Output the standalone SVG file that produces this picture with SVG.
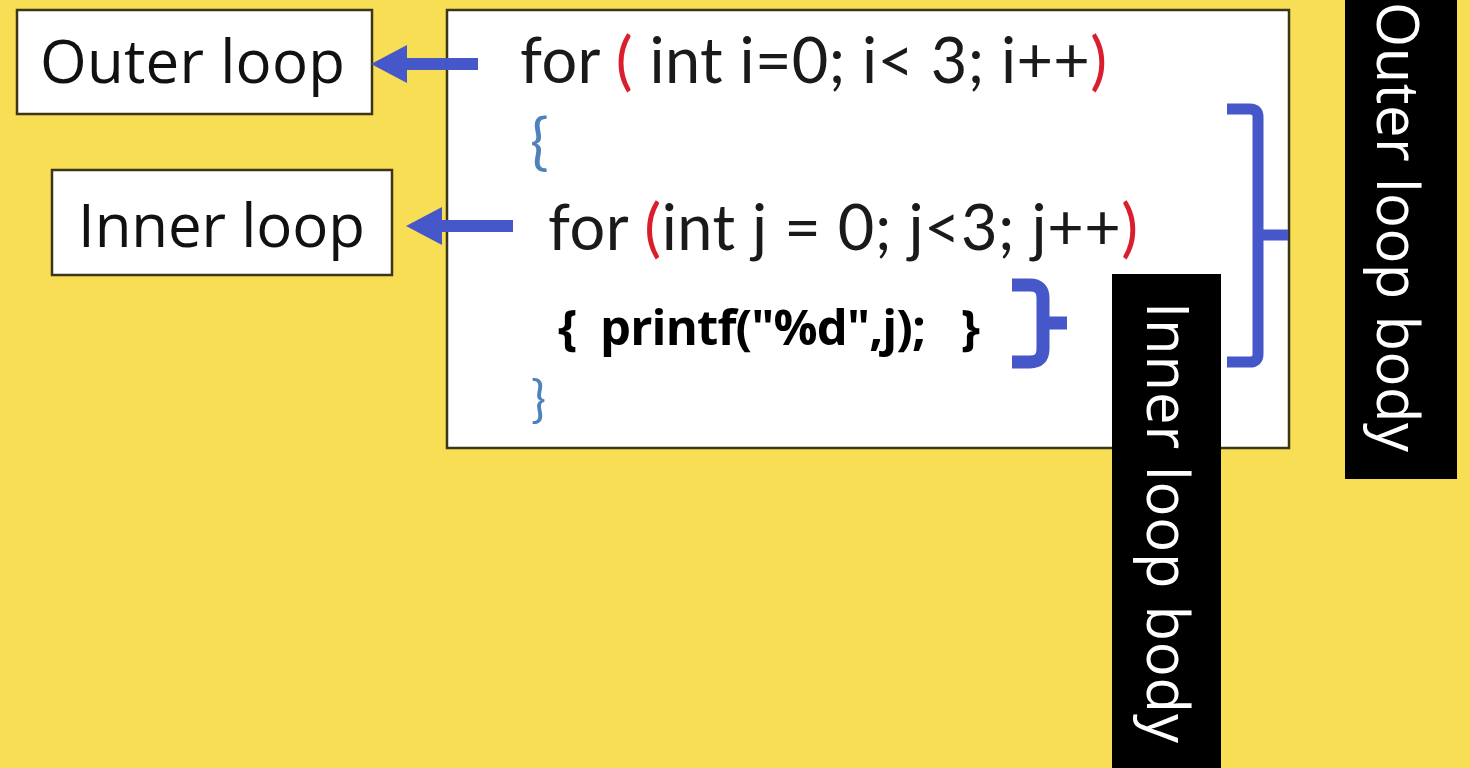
<svg xmlns="http://www.w3.org/2000/svg" width="1470" height="768" viewBox="0 0 1470 768">
  <style>
    .label { font-family: "Open Sans", "Noto Sans", sans-serif; font-size: 60px; fill: #111; }
    .box { fill: #fff; stroke: #3b3618; stroke-width: 2.5; }
    .code { font-family: Lato, "Open Sans", sans-serif; font-size: 63px; fill: #1a1a1a; }
    .paren { fill: #d91f2e; }
    .brace { font-family: Lato, "Open Sans", sans-serif; fill: #4f81bd; }
    .body { font-family: "Open Sans", "Noto Sans", sans-serif; font-weight: 700; font-size: 49px; fill: #000; white-space: pre; }
    .tag { fill: #000; }
    .tagtext { font-family: "Open Sans", "Noto Sans", sans-serif; font-size: 58px; fill: #fff; }
    .bracket { fill: none; stroke: #4657c9; stroke-linejoin: round; }
    .arrow { stroke: #4657c9; stroke-width: 12; fill: none; marker-end: url(#head); }
  </style>
  <defs>
    <marker id="head" markerUnits="userSpaceOnUse" markerWidth="36" markerHeight="38" viewBox="0 0 36 38" refX="0" refY="19" orient="auto">
      <path d="M0,0 L36,19 L0,38 Z" fill="#4657c9"/>
    </marker>
  </defs>

  <!-- background -->
  <rect x="0" y="0" width="1470" height="768" fill="#f8de55"/>

  <!-- code listing -->
  <g id="code-box">
    <rect class="box" x="447" y="10" width="842" height="438"/>
    <text class="code" x="520" y="83" textLength="587" lengthAdjust="spacing">for <tspan class="paren">(</tspan> int i=0; i&lt; 3; i++<tspan class="paren">)</tspan></text>
    <text class="brace" x="530" y="163" font-size="62">{</text>
    <text class="code" x="548" y="250" textLength="590" lengthAdjust="spacing">for <tspan class="paren">(</tspan>int j = 0; j&lt;3; j++<tspan class="paren">)</tspan></text>
    <text class="body" x="558" y="345" textLength="422" lengthAdjust="spacing" xml:space="preserve">{  printf("%d",j);   }</text>
    <text class="brace" x="531" y="417" font-size="50">}</text>
  </g>

  <!-- left labels -->
  <g id="outer-loop">
    <rect class="box" x="17" y="10" width="355" height="104"/>
    <text class="label" x="40" y="83" textLength="305" lengthAdjust="spacing">Outer loop</text>
  </g>
  <g id="inner-loop">
    <rect class="box" x="52" y="170" width="340" height="105"/>
    <text class="label" x="78" y="247" textLength="287" lengthAdjust="spacing">Inner loop</text>
  </g>

  <!-- brackets marking the loop bodies -->
  <g id="inner-body-bracket">
    <path class="bracket" stroke-width="13" d="M1012,285 H1030 Q1043,285 1043,298 V323 H1067 M1043,323 V349 Q1043,362 1030,362 H1012"/>
  </g>
  <g id="outer-body-bracket">
    <path class="bracket" stroke-width="11" d="M1227,109 H1250 Q1258,109 1258,117 V235 H1288 M1258,235 V354 Q1258,362 1250,362 H1227"/>
  </g>

  <!-- vertical tags -->
  <g id="inner-loop-body">
    <rect class="tag" x="1112" y="274" width="109" height="494"/>
    <text class="tagtext" transform="translate(1147,302) rotate(90)" x="0" y="0" font-size="59" textLength="441" lengthAdjust="spacing">Inner loop body</text>
  </g>
  <g id="outer-loop-body">
    <rect class="tag" x="1345" y="0" width="112" height="479"/>
    <text class="tagtext" transform="translate(1377,2) rotate(90)" x="0" y="0" textLength="450" lengthAdjust="spacing">Outer loop body</text>
  </g>

  <!-- connectors -->
  <g id="connectors">
    <line class="arrow" x1="478" y1="64" x2="407" y2="64"/>
    <line class="arrow" x1="513" y1="226" x2="442" y2="226"/>
  </g>
</svg>
